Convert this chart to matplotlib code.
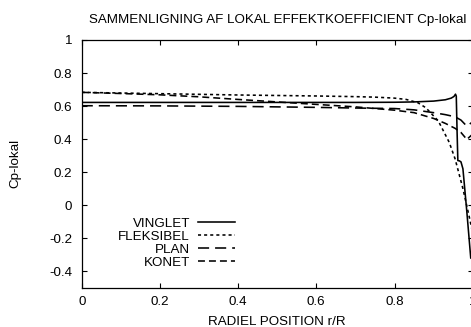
import matplotlib
matplotlib.use("Agg")
import matplotlib.pyplot as plt

plt.rcParams["font.family"] = ["Liberation Sans", "DejaVu Sans"]
plt.rcParams["lines.scale_dashes"] = False

# Local power coefficient along the blade for four tip designs
r_vinglet = [0.0, 0.1, 0.2, 0.3, 0.4, 0.5, 0.6, 0.7, 0.8, 0.85, 0.9, 0.93,
             0.945, 0.952, 0.956, 0.958, 0.960, 0.962, 0.966, 0.970, 0.975,
             0.985, 0.995]
cp_vinglet = [0.622, 0.622, 0.622, 0.622, 0.622, 0.622, 0.622, 0.622, 0.623,
              0.625, 0.630, 0.638, 0.648, 0.658, 0.672, 0.66, 0.45, 0.27,
              0.268, 0.262, 0.22, -0.04, -0.32]

r_fleksibel = [0.0, 0.1, 0.2, 0.3, 0.4, 0.5, 0.6, 0.7, 0.75, 0.8, 0.83, 0.86,
               0.88, 0.9, 0.912, 0.925, 0.94, 0.955, 0.975, 0.993, 1.0]
cp_fleksibel = [0.683, 0.679, 0.675, 0.671, 0.667, 0.664, 0.661, 0.657, 0.654,
                0.648, 0.64, 0.62, 0.59, 0.54, 0.51, 0.45, 0.38, 0.28, 0.10,
                -0.09, -0.17]

r_plan = [0.0, 0.2, 0.4, 0.6, 0.7, 0.8, 0.85, 0.9, 0.93, 0.955, 0.97, 0.985, 1.0]
cp_plan = [0.602, 0.601, 0.598, 0.592, 0.588, 0.585, 0.577, 0.56, 0.548, 0.535,
           0.515, 0.478, 0.505]

r_konet = [0.0, 0.1, 0.2, 0.3, 0.4, 0.5, 0.6, 0.7, 0.8, 0.85, 0.9, 0.93,
           0.955, 0.97, 0.985, 1.0]
cp_konet = [0.683, 0.676, 0.668, 0.656, 0.64, 0.625, 0.61, 0.595, 0.575, 0.56,
            0.525, 0.495, 0.465, 0.44, 0.398, 0.43]

x_ticks = [0, 0.2, 0.4, 0.6, 0.8, 1]
y_ticks = [-0.4, -0.2, 0, 0.2, 0.4, 0.6, 0.8, 1]
x_ticklabels = ["0", "0.2", "0.4", "0.6", "0.8", "1"]
y_ticklabels = ["-0.4", "-0.2", "0", "0.2", "0.4", "0.6", "0.8", "1"]

fs = 9.6
lw = 1.15

fig = plt.figure(figsize=(4.71, 3.27), dpi=100)
ax = fig.add_axes([81.7 / 471, 1 - 287.7 / 327, 391 / 471, 247.7 / 327])

ax.plot(r_vinglet, cp_vinglet, color="black", lw=lw, ls="-", label="VINGLET")
ax.plot(r_fleksibel, cp_fleksibel, color="black", lw=lw,
        ls=(0, (2.2, 2.2)), label="FLEKSIBEL")
ax.plot(r_plan, cp_plan, color="black", lw=lw, ls=(0, (8.0, 4.3)), label="PLAN")
ax.plot(r_konet, cp_konet, color="black", lw=lw, ls=(0, (5.0, 2.9)), label="KONET")

ax.set_xlim(0, 1)
ax.set_ylim(-0.5, 1)
ax.set_xticks(x_ticks)
ax.set_xticklabels(x_ticklabels)
ax.set_yticks(y_ticks)
ax.set_yticklabels(y_ticklabels)
ax.tick_params(direction="in", length=3.5, width=0.8, top=True, right=True,
               labelsize=fs, colors="black")
ax.tick_params(axis="y", pad=7.0)
ax.tick_params(axis="x", pad=6.3)
for sp in ax.spines.values():
    sp.set_linewidth(0.9)

ax.set_title("SAMMENLIGNING AF LOKAL EFFEKTKOEFFICIENT Cp-lokal",
             fontsize=fs, y=1.0807, va="center", pad=0)
ax.set_xlabel("RADIEL POSITION r/R", fontsize=fs)
ax.xaxis.label.set_va("center")
ax.xaxis.set_label_coords(0.5, -0.137)
ax.set_ylabel("Cp-lokal", fontsize=fs)
ax.yaxis.label.set_va("center")
ax.yaxis.label.set_ha("center")
ax.yaxis.set_label_coords(-0.1706, 0.5)

ax.legend(loc="upper right", bbox_to_anchor=(0.393, 0.283), frameon=False,
          markerfirst=False, fontsize=fs, handlelength=2.8, handletextpad=0.6,
          labelspacing=0.05, borderpad=0, borderaxespad=0)

fig.savefig("out.png", dpi=100)
